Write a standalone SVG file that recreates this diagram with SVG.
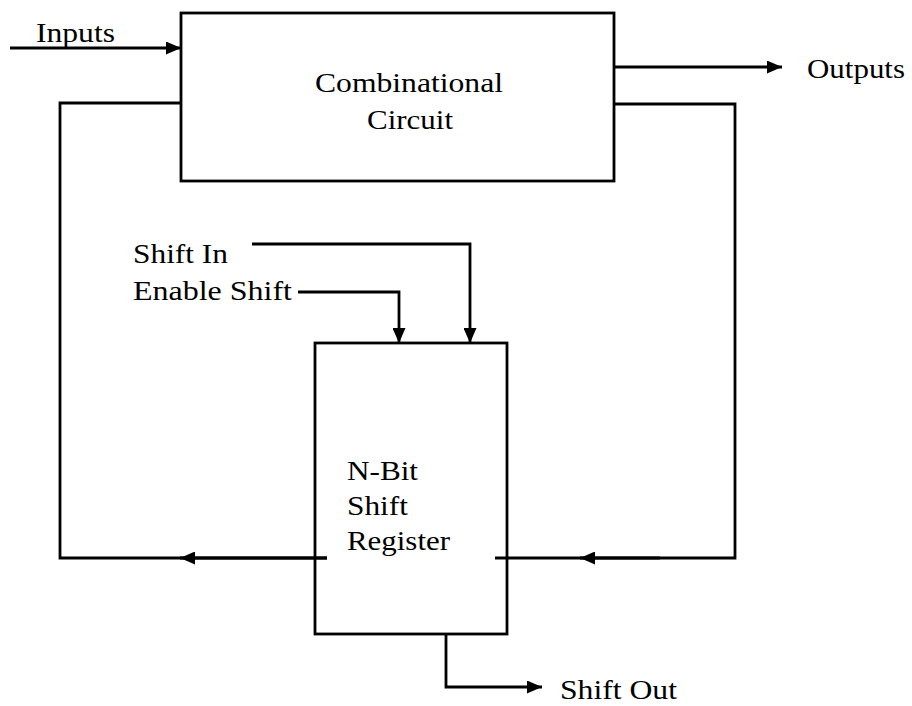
<svg xmlns="http://www.w3.org/2000/svg" width="912" height="706" viewBox="0 0 912 706">
<style>
.box{fill:none;stroke:#000;stroke-width:2.8}
.ln{fill:none;stroke:#000;stroke-width:2.8}
.t{font-family:"Liberation Serif","Times New Roman",serif;font-size:27px;fill:#000}
</style>
<defs>
<marker id="ah" viewBox="0 0 15 13" refX="15" refY="6.5" markerWidth="15" markerHeight="13" markerUnits="userSpaceOnUse" orient="auto">
<path d="M0,0 L15,6.5 L0,13 Z" fill="#000"/>
</marker>
</defs>
<rect width="912" height="706" fill="#fff"/>
<g id="combinational">
<rect class="box" x="181" y="13" width="433" height="168"/>
<text class="t" x="315" y="92" textLength="188" lengthAdjust="spacingAndGlyphs">Combinational</text>
<text class="t" x="367" y="129" textLength="86" lengthAdjust="spacingAndGlyphs">Circuit</text>
</g>
<g id="register">
<rect class="box" x="315" y="343" width="192" height="291"/>
<text class="t" x="347" y="480" textLength="71" lengthAdjust="spacingAndGlyphs">N-Bit</text>
<text class="t" x="347" y="515" textLength="61" lengthAdjust="spacingAndGlyphs">Shift</text>
<text class="t" x="347" y="550" textLength="103" lengthAdjust="spacingAndGlyphs">Register</text>
</g>
<g id="labels">
<text class="t" x="36" y="42" textLength="79" lengthAdjust="spacingAndGlyphs">Inputs</text>
<text class="t" x="807" y="78" textLength="98" lengthAdjust="spacingAndGlyphs">Outputs</text>
<text class="t" x="133" y="263" textLength="95" lengthAdjust="spacingAndGlyphs">Shift In</text>
<text class="t" x="133" y="300" textLength="159" lengthAdjust="spacingAndGlyphs">Enable Shift</text>
<text class="t" x="560" y="699" textLength="117" lengthAdjust="spacingAndGlyphs">Shift Out</text>
</g>
<g id="connectors">
<path class="ln" d="M10,48 H181" marker-end="url(#ah)"/>
<path class="ln" d="M614,67 H782" marker-end="url(#ah)"/>
<path class="ln" d="M181,103 H60 V558 H327"/>
<path class="ln" d="M327,558 H180" marker-end="url(#ah)"/>
<path class="ln" d="M614,104 H735 V558 H495"/>
<path class="ln" d="M660,558 H580" marker-end="url(#ah)"/>
<path class="ln" d="M252,244 H470 V343" marker-end="url(#ah)"/>
<path class="ln" d="M298,292 H399 V343" marker-end="url(#ah)"/>
<path class="ln" d="M446,634 V687 H542" marker-end="url(#ah)"/>
</g>
</svg>
